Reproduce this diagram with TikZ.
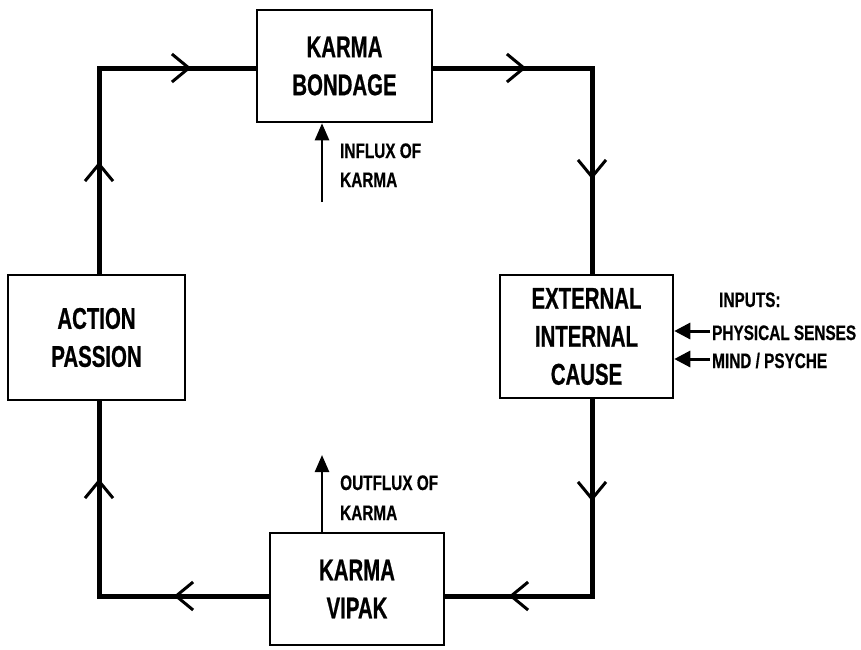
\documentclass[tikz,border=0pt]{standalone}
\usepackage{fontspec}
\newfontfamily\bigfont[FakeStretch=0.68,FakeBold=0.6]{Liberation Sans}
\newfontfamily\smallfont[FakeStretch=0.73,FakeBold=0.5]{Liberation Sans}
\usetikzlibrary{arrows.meta,decorations.markings}
\tikzset{
  box/.style={draw, line width=2.5pt, inner sep=0pt, align=center,
    font={\bigfont\bfseries\fontsize{30}{38}\selectfont}},
  loopline/.style={line width=5pt, line join=miter},
  midarr/.style={postaction={decorate, decoration={markings,
    mark=at position #1 with {\arrow{Straight Barb[length=17pt,width=28pt,line width=3pt]}}}}},
  flow/.style={line width=2.5pt, -{Triangle[length=17pt,width=14pt]}},
  inarr/.style={line width=3pt, -{Triangle[length=16pt,width=16pt]}},
  lbl/.style={anchor=base west, inner sep=0pt,
    font={\smallfont\bfseries\fontsize{21}{29}\selectfont}}
}
\begin{document}
\begin{tikzpicture}[x=1pt,y=-1pt]
\useasboundingbox (0,0) rectangle (861,649);
% boxes
\node[box, minimum width=175pt, minimum height=112pt] (bond) at (344.5,66) {KARMA\\BONDAGE};
\node[box, minimum width=173pt, minimum height=123pt] (cause) at (586.5,336.5) {EXTERNAL\\INTERNAL\\CAUSE};
\node[box, minimum width=177pt, minimum height=125pt] (action) at (96.5,337.5) {ACTION\\PASSION};
\node[box, minimum width=174pt, minimum height=112pt] (vipak) at (357,589) {KARMA\\VIPAK};
% loop corners
\coordinate (tl) at (99,68);
\coordinate (tr) at (592,68);
\coordinate (br) at (592,596);
\coordinate (bl) at (99,596);
% loop
\draw[loopline, midarr=112pt, midarr=298pt] (action.north -| tl) -- (tl) -- (bond.west |- tl);
\draw[loopline, midarr=93pt, midarr=270pt] (bond.east |- tl) -- (tr) -- (cause.north -| tr);
\draw[loopline, midarr=102pt, midarr=280pt] (cause.south -| tr) -- (br) -- (vipak.east |- br);
\draw[loopline, midarr=95pt, midarr=287pt] (vipak.west |- br) -- (bl) -- (action.south -| bl);
% influx / outflux
\coordinate (inft) at (322,202);
\draw[flow] (inft) -- (inft |- bond.south);
\coordinate (outt) at (322,455);
\draw[flow] (vipak.north -| outt) -- (outt);
\node[lbl] (inf1) at (340,158) {INFLUX OF};
\node[lbl] (inf2) at (340,187) {KARMA};
\node[lbl] (out1) at (340,490) {OUTFLUX OF};
\node[lbl] (out2) at (340,520) {KARMA};
% inputs
\node[lbl] (inp) at (719,307) {INPUTS:};
\node[lbl] (phys) at (712,340) {PHYSICAL SENSES};
\node[lbl] (mind) at (712,368) {MIND / PSYCHE};
\coordinate (p1) at (710,331);
\coordinate (p2) at (710,359);
\draw[inarr] (p1) -- (p1 -| cause.east);
\draw[inarr] (p2) -- (p2 -| cause.east);
\end{tikzpicture}
\end{document}
